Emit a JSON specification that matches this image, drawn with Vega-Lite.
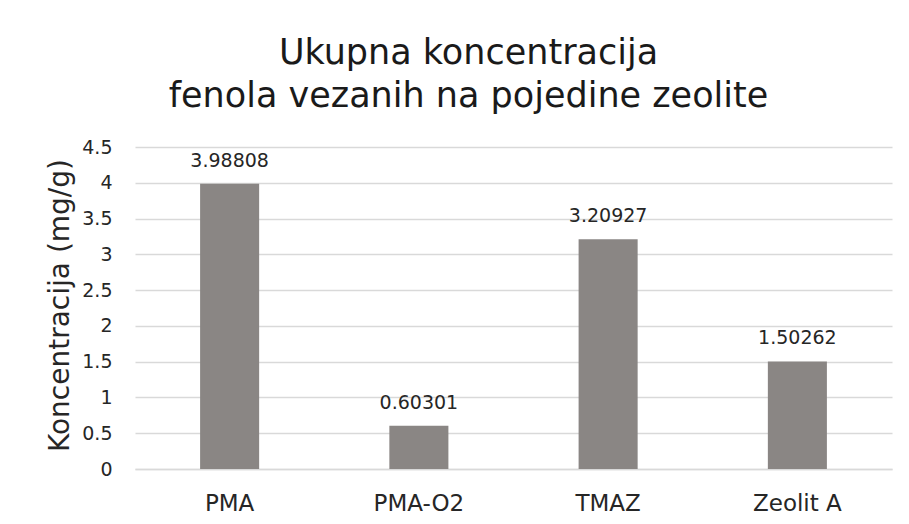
{
  "$schema": "https://vega.github.io/schema/vega-lite/v6.json",
  "width": 757,
  "height": 322,
  "autosize": {"type": "none"},
  "padding": {"left": 135, "top": 147, "right": 17, "bottom": 55},
  "background": "white",
  "title": {
    "text": ["Ukupna koncentracija", "fenola vezanih na pojedine zeolite"],
    "font": "DejaVu Sans",
    "fontSize": 35,
    "fontWeight": "normal",
    "color": "#1a1a1a",
    "lineHeight": 43,
    "anchor": "middle",
    "baseline": "bottom",
    "offset": -11,
    "dx": -45
  },
  "data": {
    "values": [
      {"zeolit": "PMA", "c": 3.98808},
      {"zeolit": "PMA-O2", "c": 0.60301},
      {"zeolit": "TMAZ", "c": 3.20927},
      {"zeolit": "Zeolit A", "c": 1.50262}
    ]
  },
  "encoding": {
    "x": {
      "field": "zeolit",
      "type": "nominal",
      "sort": null,
      "scale": {"paddingInner": 0.688, "paddingOuter": 0.344},
      "axis": {
        "title": null,
        "labelAngle": 0,
        "ticks": false,
        "domain": true,
        "domainColor": "#d9d9d9",
        "domainWidth": 1.5,
        "labelFont": "DejaVu Sans",
        "labelFontSize": 23,
        "labelColor": "#262626",
        "labelBaseline": "alphabetic",
        "labelPadding": 41
      }
    },
    "y": {
      "field": "c",
      "type": "quantitative",
      "scale": {"domain": [0, 4.5], "nice": false},
      "axis": {
        "values": [0, 0.5, 1, 1.5, 2, 2.5, 3, 3.5, 4, 4.5],
        "format": "~g",
        "title": "Koncentracija (mg/g)",
        "titleFont": "DejaVu Sans",
        "titleFontSize": 28,
        "titleFontWeight": "normal",
        "titleColor": "#262626",
        "titleAngle": -90,
        "titleAlign": "center",
        "titleBaseline": "middle",
        "titleX": -75,
        "titleY": 158,
        "domain": false,
        "ticks": false,
        "grid": true,
        "gridColor": "#d9d9d9",
        "gridWidth": 1.5,
        "labelFont": "DejaVu Sans",
        "labelFontSize": 19,
        "labelColor": "#262626",
        "labelPadding": 23
      }
    }
  },
  "layer": [
    {"mark": {"type": "bar", "color": "#8a8684"}},
    {
      "mark": {
        "type": "text",
        "font": "DejaVu Sans",
        "fontSize": 19,
        "color": "#262626",
        "baseline": "alphabetic",
        "dy": -17
      },
      "encoding": {"text": {"field": "c", "type": "quantitative", "format": ".5f"}}
    }
  ],
  "config": {"view": {"stroke": null}}
}
